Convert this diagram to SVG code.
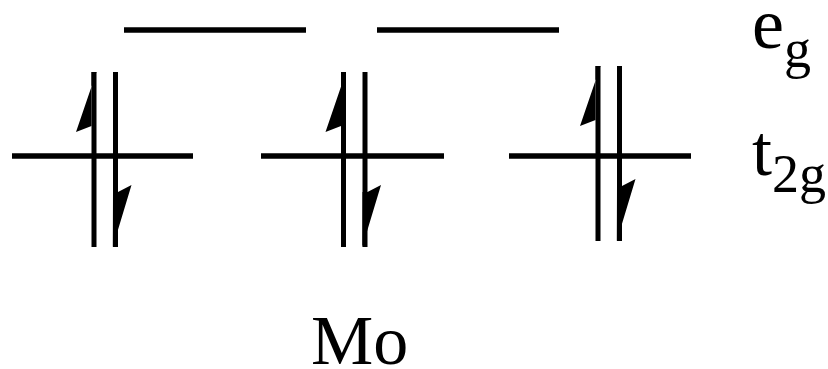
<svg xmlns="http://www.w3.org/2000/svg" xmlns:xlink="http://www.w3.org/1999/xlink" width="828" height="369" viewBox="0 0 828 369">
  <style>
    .lvl { stroke: #000; stroke-width: 5.5; fill: none; }
    .spin { stroke: #000; stroke-width: 5; fill: none; }
    .barb { fill: #000; stroke: none; }
    .lbl { font-family: "Liberation Serif", "Times New Roman", serif; fill: #000; }
  </style>
  <defs>
    <g id="pair">
      <line class="spin" x1="0" y1="0" x2="0" y2="175"/>
      <polygon class="barb" points="2.5,0 -18,60 -2.5,54 -2.5,0"/>
      <line class="spin" x1="21.5" y1="0" x2="21.5" y2="175"/>
      <polygon class="barb" points="24,120 37.5,113 18.8,175 19,120"/>
    </g>
  </defs>
  <rect width="828" height="369" fill="#fff"/>
  <g id="eg-orbitals">
    <line class="lvl" x1="124" y1="30" x2="306" y2="30"/>
    <line class="lvl" x1="377" y1="30" x2="559" y2="30"/>
  </g>
  <g id="t2g-orbital-1">
    <line class="lvl" x1="12" y1="156" x2="193" y2="156"/>
    <use xlink:href="#pair" transform="translate(94,72)"/>
  </g>
  <g id="t2g-orbital-2">
    <line class="lvl" x1="261" y1="156" x2="444" y2="156"/>
    <use xlink:href="#pair" transform="translate(343.5,72)"/>
  </g>
  <g id="t2g-orbital-3">
    <line class="lvl" x1="509" y1="156" x2="691" y2="156"/>
    <use xlink:href="#pair" transform="translate(598,66)"/>
  </g>
  <g id="connectors"/>
  <g id="label-eg">
    <text class="lbl" x="752" y="48" font-size="72">e<tspan font-size="54" dy="19">g</tspan></text>
  </g>
  <g id="label-t2g">
    <text class="lbl" x="752" y="175" font-size="72">t<tspan font-size="54" dy="17">2g</tspan></text>
  </g>
  <g id="label-Mo">
    <text class="lbl" x="311" y="364" font-size="70">Mo</text>
  </g>
</svg>
